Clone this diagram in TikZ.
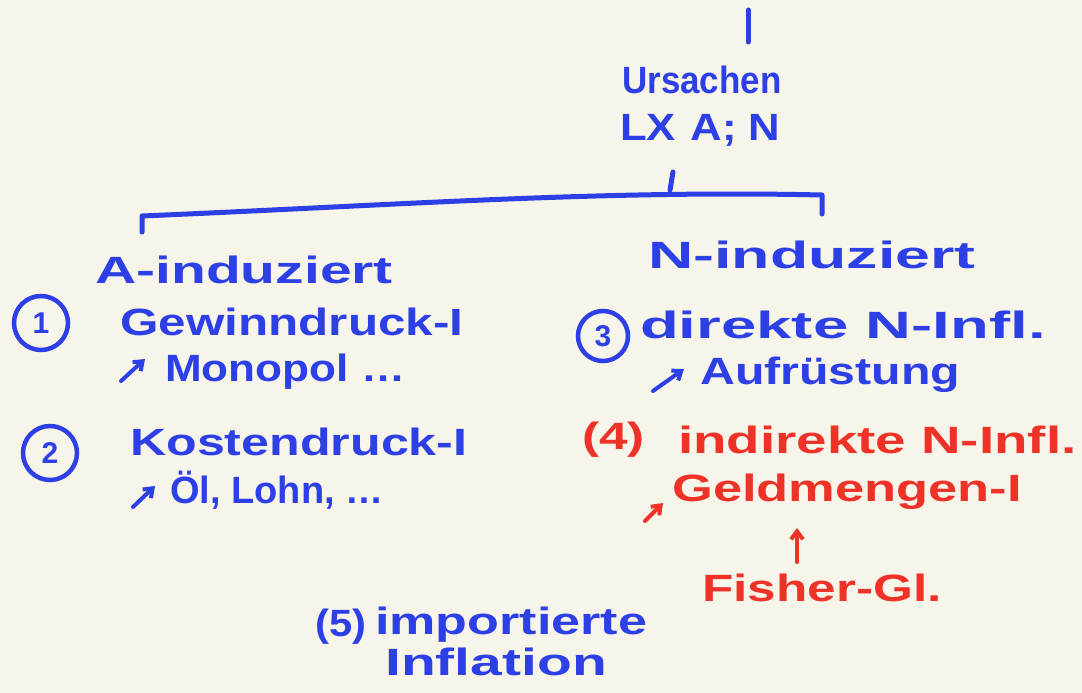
\documentclass[tikz,border=0pt]{standalone}
\usepackage{fontspec}
\usetikzlibrary{arrows.meta}
\setmainfont{Liberation Sans}
\definecolor{paper}{HTML}{F7F4E9}
\definecolor{ink}{HTML}{2D40E6}
\definecolor{redink}{HTML}{EE3228}
\newcommand{\sx}[2]{\scalebox{#1}[1]{#2}}
\begin{document}
\begin{tikzpicture}[x=1pt,y=-1pt,
  txt/.style={anchor=west,inner sep=0pt,font=\fontsize{38}{42}\selectfont\bfseries},
  bl/.style={txt,text=ink},
  rd/.style={txt,text=redink},
  stroke/.style={line width=5pt,line cap=round,line join=round},
  bstroke/.style={stroke,draw=ink},
  rstroke/.style={stroke,draw=redink},
  tip/.style={line width=4pt,-{Straight Barb[length=8pt,width=12pt]}},
  num/.style={circle,draw=ink,line width=4.5pt,minimum size=54pt,inner sep=0pt,text=ink,font=\fontsize{30}{32}\selectfont\bfseries}]
\fill[paper] (0,0) rectangle (1082,693);
\useasboundingbox (0,0) rectangle (1082,693);
% top
\coordinate (top1) at (748,10);
\coordinate (top2) at (748,42);
\draw[bstroke] (top1) -- (top2);
\node[bl] (urs) at (622,80) {\sx{0.92}{Ursachen}};
\node[bl] (lx) at (620,130) {\sx{1.15}{LX\,\,A; N}};
\coordinate (stemA) at (673,172);
\coordinate (stemB) at (670,190);
\draw[bstroke] (stemA) -- (stemB);
% bracket
\coordinate (bl1) at (142,232);
\coordinate (bl2) at (142,216);
\coordinate (br2) at (822,195);
\coordinate (br1) at (822,214);
\draw[bstroke] (bl1) -- (bl2) .. controls (400,205) and (600,190) .. (br2) -- (br1);
% left
\node[bl] (aind) at (95,270) {\sx{1.5}{A-induziert}};
\node[num] (n1) at (41,323) {1};
\node[bl] (gew) at (120,322) {\sx{1.3}{Gewinndruck-I}};
\coordinate (a1s) at (121,381);
\coordinate (a1e) at (145,359);
\draw[bstroke,tip] (a1s) -- (a1e);
\node[bl] (mono) at (165,372) {\sx{1.16}{Monopol …}};
\node[num] (n2) at (50,453) {2};
\node[bl] (kost) at (130,442) {\sx{1.32}{Kostendruck-I}};
\coordinate (a2s) at (133,507);
\coordinate (a2e) at (155,486);
\draw[bstroke,tip] (a2s) -- (a2e);
\node[bl] (oel) at (170,490) {Öl, Lohn, …};
% right
\node[bl] (nind) at (648,255) {\sx{1.65}{N-induziert}};
\node[num,minimum size=50pt] (n3) at (603,336) {3};
\node[bl] (dir) at (640,325) {\sx{1.67}{direkte N-Infl.}};
\coordinate (a3s) at (653,391);
\coordinate (a3e) at (684,369);
\draw[bstroke,tip] (a3s) -- (a3e);
\node[bl] (auf) at (700,375) {\sx{1.27}{Aufrüstung}};
\node[rd] (n4) at (582,440) {\sx{1.35}{(4)}};
\node[rd] (ind) at (678,440) {\sx{1.44}{indirekte N-Infl.}};
\coordinate (a4s) at (645,521);
\coordinate (a4e) at (663,503);
\draw[rstroke,tip] (a4s) -- (a4e);
\node[rd] (geld) at (672,492) {\sx{1.38}{Geldmengen-I}};
\node[rd] (fish) at (702,588) {\sx{1.35}{Fisher-Gl.}};
\coordinate (fa) at (797,562);
\coordinate (fb) at (797,528);
\draw[rstroke,tip] (fa) -- (fb);
% bottom
\node[bl] (n5) at (315,627) {\sx{1.1}{(5)}};
\node[bl] (imp) at (375,625) {\sx{1.37}{importierte}};
\node[bl] (infl) at (385,662) {\sx{1.5}{Inflation}};
\end{tikzpicture}
\end{document}
